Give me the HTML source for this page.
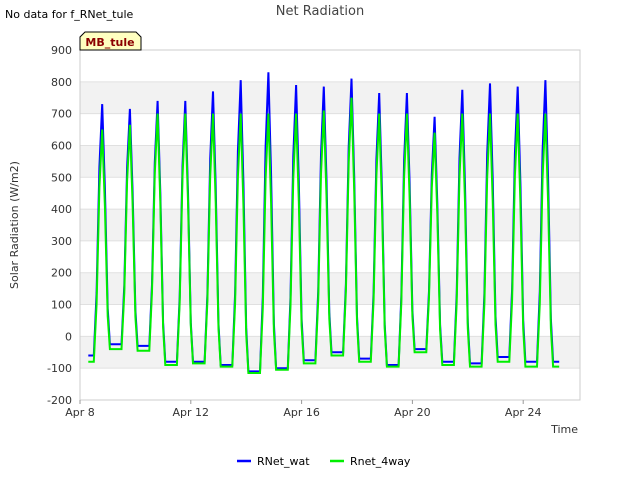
<!DOCTYPE html>
<html><head><meta charset="utf-8"><style>
body{margin:0;background:#fff;font-family:"Liberation Sans","DejaVu Sans",sans-serif}
</style></head><body>
<svg width="640" height="480" viewBox="0 0 640 480" font-family="DejaVu Sans, Liberation Sans, sans-serif">
<rect width="640" height="480" fill="#fff"/>
<g id="bands"></g>
<g id="grid"></g>
<rect x="80" y="50" width="500" height="350" fill="none" stroke="#ccc"/>
<g id="yticks" font-size="11" fill="#333" text-anchor="end"></g>
<g id="xticks" font-size="11" fill="#333" text-anchor="middle"></g>
<g id="series"></g>
<text x="320" y="15" font-size="13" fill="#444" text-anchor="middle">Net Radiation</text>
<text x="5" y="18" font-size="11" fill="#000">No data for f_RNet_tule</text>
<g>
<path d="M80,50 L80,37 L85,32 L136,32 L141,37 L141,50 Z" fill="#ffffc0" stroke="#000"/>
<text x="110" y="46" font-size="11" font-weight="bold" fill="#8b0000" text-anchor="middle">MB_tule</text>
</g>
<text x="18" y="225" font-size="11" fill="#333" text-anchor="middle" transform="rotate(-90 18 225)">Solar Radiation (W/m2)</text>
<text x="578" y="433" font-size="11" fill="#333" text-anchor="end">Time</text>
<g font-size="11" fill="#000">
<g><line x1="237" y1="461" x2="251" y2="461" stroke="#0000ff" stroke-width="2.5"/><text x="257" y="465">RNet_wat</text></g>
<g><line x1="330" y1="461" x2="344" y2="461" stroke="#00ee00" stroke-width="2.5"/><text x="350" y="465">Rnet_4way</text></g>
</g>
</svg>
<script>
const yTicks=[-200,-100,0,100,200,300,400,500,600,700,800,900];
const xTickDays=[0,4,8,12,16];
const xTickLabels=["Apr 8","Apr 12","Apr 16","Apr 20","Apr 24"];
const days=[0,1,2,3,4,5,6,7,8,9,10,11,12,13,14,15,16];
const watPeaks=[730,715,740,740,770,805,830,790,785,810,765,765,690,775,795,785,805];
const watNights=[-60,-25,-30,-80,-80,-90,-110,-100,-75,-50,-70,-90,-40,-80,-85,-65,-80];
const wayPeaks=[650,665,700,700,700,700,700,700,710,750,700,700,640,700,700,700,700];
const wayNights=[-80,-40,-45,-90,-85,-95,-115,-105,-85,-60,-80,-95,-50,-90,-95,-80,-95];
const shapeT=[0.5,0.6,0.7,0.8,0.9,1.0];
const shapeF=[0,0.25,0.75,1,0.65,0.15];
const NS="http://www.w3.org/2000/svg";
const X=d=>80+d*27.7, Y=v=>400-(v+200)*350/1100;
function el(tag,attrs,parent){const e=document.createElementNS(NS,tag);for(const k in attrs)e.setAttribute(k,attrs[k]);parent.appendChild(e);return e;}
const bands=document.getElementById('bands'),grid=document.getElementById('grid');
yTicks.forEach((v,i)=>{
 if(i<yTicks.length-1 && (v===-100||v===100||v===300||v===500||v===700)){
  const r=el('rect',{x:80,y:Y(v+100),width:500,height:Y(v)-Y(v+100),fill:'#f2f2f2'},bands);
  }
 const l=el('line',{x1:80,x2:580,y1:Y(v),y2:Y(v),stroke:'#e0e0e0'},grid);
 
 const t=el('text',{x:72,y:Y(v)+4},document.getElementById('yticks'));t.textContent=v;
 
});
xTickDays.forEach((d,i)=>{
 const l=el('line',{x1:X(d),x2:X(d),y1:400,y2:404,stroke:'#999'},document.getElementById('xticks'));
 
 const t=el('text',{x:X(d),y:416},document.getElementById('xticks'));t.textContent=xTickLabels[i];
 
});
function build(peaks,nights){
 const pts=[[0.3,nights[0]]];
 days.forEach((d,i)=>{
  const n=nights[i], nn=i+1<nights.length?nights[i+1]:nights[i];
  shapeT.forEach((t,j)=>{const base=j<3?n:nn;pts.push([d+t,base+(peaks[i]-base)*shapeF[j]]);});
  pts.push([d+1.08,nn]);
 });
 pts.push([17.3,nights[nights.length-1]]);
 return pts.map(p=>X(p[0]).toFixed(1)+','+Y(p[1]).toFixed(1)).join(' ');
}
const s=document.getElementById('series');
const p1=el('polyline',{points:build(watPeaks,watNights),fill:'none',stroke:'#0000ff','stroke-width':2},s);

const p2=el('polyline',{points:build(wayPeaks,wayNights),fill:'none',stroke:'#00ee00','stroke-width':2},s);

</script>
</body></html>
